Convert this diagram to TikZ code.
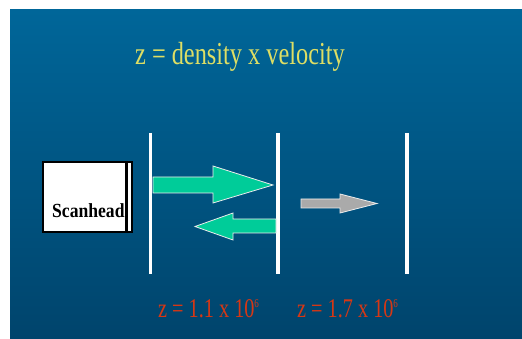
\documentclass[tikz,border=0pt]{standalone}
\usepackage{fontspec}
\setmainfont{Liberation Serif}
\definecolor{bgtop}{RGB}{0,102,153}
\definecolor{bgbot}{RGB}{0,68,108}
\definecolor{titley}{RGB}{222,222,100}
\definecolor{arrgreen}{RGB}{0,204,153}
\definecolor{arrgray}{RGB}{170,170,170}
\definecolor{labred}{RGB}{215,55,20}
\newcommand{\smallsup}[1]{\raisebox{0.75ex}{\fontsize{12}{12}\selectfont #1}}
\tikzset{
  wall/.style={draw=white, line width=3.2pt},
  blockarrow/.style={draw=white!85!gray, line width=0.8pt, line join=miter},
  title/.style={text=titley, font=\fontsize{32}{36}\selectfont, anchor=base west, inner sep=0pt, xscale=0.76},
  zlabel/.style={text=labred, font=\fontsize{27}{30}\selectfont, anchor=base west, inner sep=0pt, xscale=0.75},
}
\begin{document}
\begin{tikzpicture}[x=1pt,y=-1pt]
\useasboundingbox (0,0) rectangle (522,339);
\fill[white] (0,0) rectangle (522,339);
\shade[top color=bgtop, bottom color=bgbot] (10,10) rectangle (522,339);
% title
\node[title] (ttl) at (135,65) {z = density x velocity};
% scanhead
\draw[black, line width=1.5pt, fill=white] (43,162) rectangle (132,232);
\fill[black] (124.5,163) rectangle (128,231);
\node[font=\fontsize{20}{22}\selectfont\bfseries, anchor=base west, inner sep=0pt, xscale=0.88] (scan) at (52,218) {Scanhead};
% walls
\draw[wall] (150.5,133) coordinate (w1t) -- (150.5,274) coordinate (w1b);
\draw[wall] (278,133) coordinate (w2t) -- (278,274) coordinate (w2b);
\draw[wall] (407,133) coordinate (w3t) -- (407,274) coordinate (w3b);
% green right arrow
\draw[blockarrow, fill=arrgreen] (153,177) -- (213,177) -- (213,166) -- (273,185) -- (213,203) -- (213,193) -- (153,193) -- cycle;
% green left arrow
\draw[blockarrow, fill=arrgreen] (276,219) -- (233,219) -- (233,213) -- (195,226.5) -- (233,240) -- (233,233) -- (276,233) -- cycle;
% gray arrow
\draw[blockarrow, fill=arrgray] (301,199) -- (340,199) -- (340,194) -- (377,203.5) -- (340,213) -- (340,208) -- (301,208) -- cycle;
% labels
\node[zlabel] (z1) at (158,317) {z = 1.1 x 10\smallsup{6}};
\node[zlabel] (z2) at (297,317) {z = 1.7 x 10\smallsup{6}};
\end{tikzpicture}
\end{document}
